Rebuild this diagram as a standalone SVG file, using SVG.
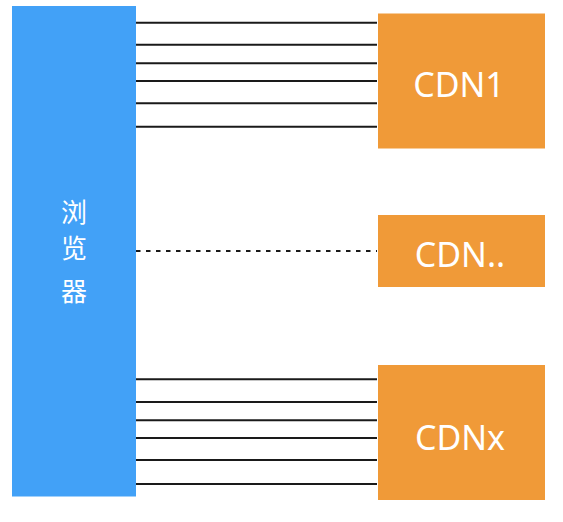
<svg xmlns="http://www.w3.org/2000/svg" width="563" height="522" viewBox="0 0 563 522">
  <style>
    .browser { fill: #42A1F7; }
    .cdn { fill: #F09A38; }
    .lbl { fill: #FFFFFF; font-family: "Comic Sans MS", "Noto Sans", "Noto Sans CJK SC", sans-serif; text-anchor: middle; }
    .cdnlbl { font-size: 34px; }
    .cn { font-size: 26px; }
    .ln { stroke: #1A1A1A; stroke-width: 2; fill: none; }
    .dash { stroke-dasharray: 4.5 5.5; }
  </style>
  <rect width="563" height="522" fill="#FFFFFF"/>
  <g id="connectors">
    <line class="ln" x1="136" y1="22.7" x2="377" y2="22.7"/>
    <line class="ln" x1="136" y1="44.7" x2="377" y2="44.7"/>
    <line class="ln" x1="136" y1="63.3" x2="377" y2="63.3"/>
    <line class="ln" x1="136" y1="81" x2="377" y2="81"/>
    <line class="ln" x1="136" y1="103.3" x2="377" y2="103.3"/>
    <line class="ln" x1="136" y1="126.7" x2="377" y2="126.7"/>
    <line class="ln dash" x1="136" y1="251" x2="377" y2="251"/>
    <line class="ln" x1="136" y1="379.3" x2="377" y2="379.3"/>
    <line class="ln" x1="136" y1="402" x2="377" y2="402"/>
    <line class="ln" x1="136" y1="420.3" x2="377" y2="420.3"/>
    <line class="ln" x1="136" y1="438" x2="377" y2="438"/>
    <line class="ln" x1="136" y1="460" x2="377" y2="460"/>
    <line class="ln" x1="136" y1="484" x2="377" y2="484"/>
  </g>
  <g id="browser">
    <rect class="browser" x="12" y="6" width="124" height="490.5"/>
    <text class="lbl cn" x="74" y="222">浏</text>
    <text class="lbl cn" x="74" y="258">览</text>
    <text class="lbl cn" x="74" y="301">器</text>
  </g>
  <g id="cdn1">
    <rect class="cdn" x="378" y="13.5" width="167" height="135"/>
    <text class="lbl cdnlbl" x="459" y="97">CDN1</text>
  </g>
  <g id="cdn-mid">
    <rect class="cdn" x="378" y="215" width="167" height="72"/>
    <text class="lbl cdnlbl" x="460" y="267">CDN..</text>
  </g>
  <g id="cdnx">
    <rect class="cdn" x="378" y="365" width="167" height="135"/>
    <text class="lbl cdnlbl" x="460" y="449.5">CDNx</text>
  </g>
</svg>
